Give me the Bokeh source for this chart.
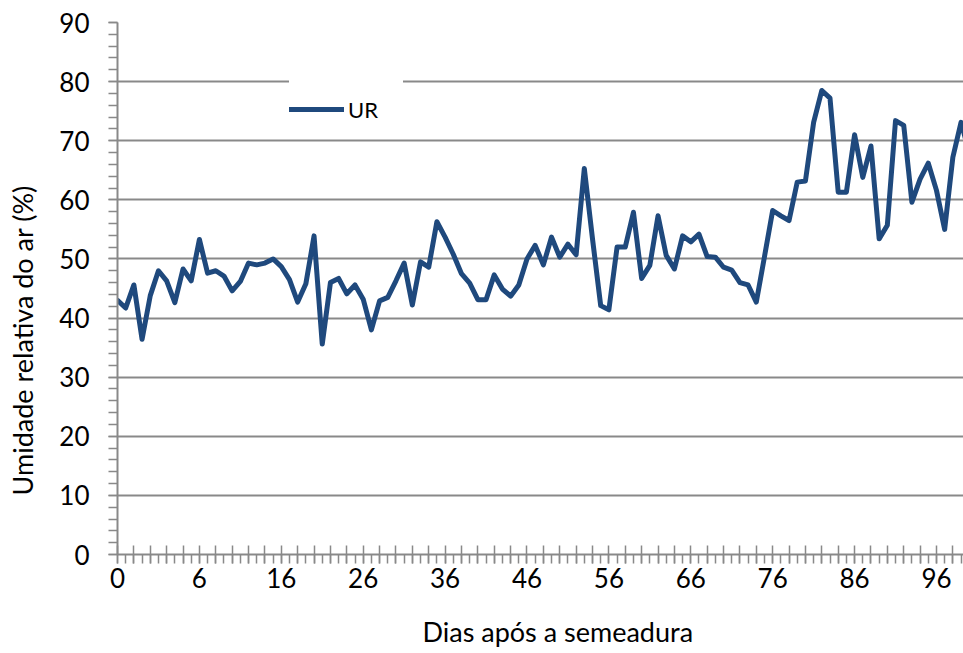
from bokeh.plotting import figure
from bokeh.models import Range1d, FixedTicker, ColumnDataSource
from bokeh.embed import file_html
from bokeh.resources import INLINE

# Relative air humidity (%) per observation (category index)
ur = [43.0, 41.7, 45.6, 36.4, 43.8, 48.0, 46.3, 42.6, 48.3, 46.3,
      53.3, 47.6, 48.0, 47.1, 44.6, 46.2, 49.3, 49.0, 49.3, 50.0,
      48.7, 46.5, 42.7, 45.8, 53.9, 35.6, 46.0, 46.7, 44.1, 45.6,
      43.2, 38.0, 42.9, 43.5, 46.3, 49.3, 42.2, 49.5, 48.6, 56.3,
      53.7, 50.8, 47.5, 45.9, 43.1, 43.1, 47.3, 44.9, 43.7, 45.6,
      50.0, 52.3, 49.0, 53.7, 50.3, 52.5, 50.7, 65.3, 53.4, 42.1,
      41.4, 52.0, 52.0, 57.9, 46.7, 48.9, 57.3, 50.6, 48.3, 53.9,
      52.9, 54.2, 50.4, 50.3, 48.6, 48.1, 46.0, 45.6, 42.7, 50.4,
      58.2, 57.3, 56.5, 63.0, 63.2, 73.1, 78.5, 77.2, 61.3, 61.3,
      71.0, 63.8, 69.1, 53.4, 55.7, 73.4, 72.6, 59.6, 63.5, 66.2,
      61.6, 55.0, 67.2, 73.1, 68.0]
obs_index = list(range(len(ur)))

# Category labels shown on the x axis (every 10th category)
label_index = [0, 10, 20, 30, 40, 50, 60, 70, 80, 90, 100]
label_text = ["0", "6", "16", "26", "36", "46", "56", "66", "76", "86", "96"]

y_ticks = [0, 10, 20, 30, 40, 50, 60, 70, 80, 90]
y_minor = [0, 2, 4, 6, 8, 10, 12, 14, 16, 18, 20, 22, 24, 26, 28, 30, 32, 34, 36, 38,
           40, 42, 44, 46, 48, 50, 52, 54, 56, 58, 60, 62, 64, 66, 68, 70, 72, 74, 76,
           78, 80, 82, 84, 86, 88, 90]

x_title = "Dias após a semeadura"
y_title = "Umidade relativa do ar (%)"
series_name = "UR"

FONT = "Lato"
GRAY = "#898989"
BLUE = "#1F497D"
NB = "\u00a0"

src = ColumnDataSource(data=dict(i=obs_index, ur=ur))

p = figure(width=963, height=653, output_backend="svg", toolbar_location=None,
           x_range=Range1d(0, 103.3), y_range=Range1d(0, 90),
           min_border_left=117, min_border_right=0, min_border_top=22,
           min_border_bottom=99)
p.outline_line_color = None
p.background_fill_color = "white"
p.border_fill_color = "white"

# x axis
major_x = [k for k in range(0, len(ur) + 1, 2)]
minor_x = [k for k in range(0, len(ur) + 1)]
p.xaxis.ticker = FixedTicker(ticks=major_x, minor_ticks=minor_x)
overrides = {k: "" for k in major_x}
for k, t in zip(label_index, label_text):
    overrides[k] = t
p.xaxis.major_label_overrides = overrides
p.xaxis.axis_line_color = GRAY
p.xaxis.axis_line_width = 2
p.xaxis.major_tick_line_color = GRAY
p.xaxis.major_tick_line_width = 1.5
p.xaxis.minor_tick_line_color = GRAY
p.xaxis.minor_tick_line_width = 1.5
p.xaxis.major_tick_in = 9
p.xaxis.major_tick_out = 9
p.xaxis.minor_tick_in = 0
p.xaxis.minor_tick_out = 9
p.xaxis.major_label_standoff = 4
p.xaxis.major_label_text_font = FONT
p.xaxis.major_label_text_font_size = "26px"
p.xaxis.major_label_text_color = "black"
p.xaxis.axis_label = NB * 5 + x_title
p.xaxis.axis_label_standoff = 24
p.xaxis.axis_label_text_font = FONT
p.xaxis.axis_label_text_font_size = "27px"
p.xaxis.axis_label_text_font_style = "normal"
p.xaxis.axis_label_text_color = "black"

# y axis
p.yaxis.ticker = FixedTicker(ticks=y_ticks, minor_ticks=y_minor)
p.yaxis.axis_line_color = GRAY
p.yaxis.axis_line_width = 2
p.yaxis.major_tick_line_color = GRAY
p.yaxis.major_tick_line_width = 1.5
p.yaxis.minor_tick_line_color = GRAY
p.yaxis.minor_tick_line_width = 1.5
p.yaxis.major_tick_in = 0
p.yaxis.major_tick_out = 9
p.yaxis.minor_tick_in = 0
p.yaxis.minor_tick_out = 9
p.yaxis.major_label_standoff = 19
p.yaxis.major_label_text_font = FONT
p.yaxis.major_label_text_font_size = "26px"
p.yaxis.major_label_text_color = "black"
p.yaxis.axis_label = y_title + NB * 15
p.yaxis.axis_label_standoff = 17
p.yaxis.axis_label_text_font = FONT
p.yaxis.axis_label_text_font_size = "27px"
p.yaxis.axis_label_text_font_style = "normal"
p.yaxis.axis_label_text_color = "black"

p.xgrid.visible = False
p.ygrid.ticker = FixedTicker(ticks=y_ticks)
p.ygrid.grid_line_color = GRAY
p.ygrid.grid_line_width = 2

p.line(x="i", y="ur", source=src, line_color=BLUE, line_width=5,
       line_join="round", line_cap="round", legend_label=series_name)

leg = p.legend[0]
leg.location = (172, 416)
leg.padding = 0
leg.margin = 0
leg.spacing = 0
leg.glyph_width = 55
leg.glyph_height = 58
leg.label_height = 58
leg.label_width = 55
leg.label_standoff = 4
leg.label_text_font = FONT
leg.label_text_font_size = "22px"
leg.label_text_color = "black"
leg.border_line_color = None
leg.background_fill_color = "white"
leg.background_fill_alpha = 1.0

open("out.html", "w").write(file_html(p, INLINE))
